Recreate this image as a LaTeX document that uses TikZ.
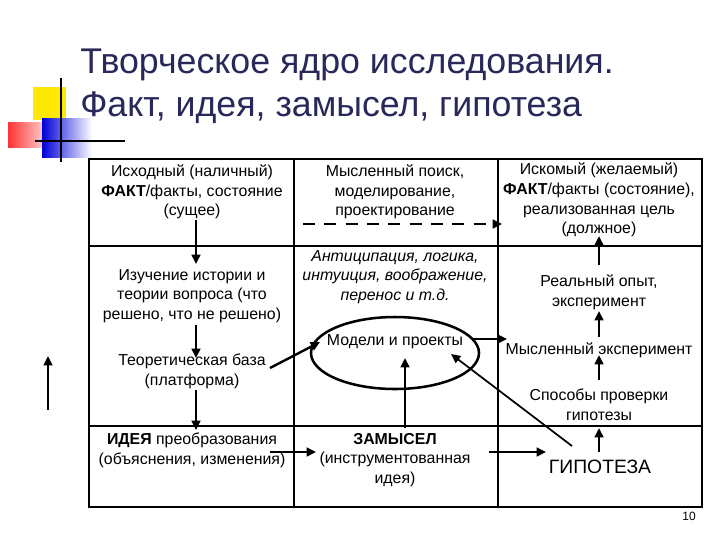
\documentclass[tikz,border=0pt]{standalone}
\usepackage{fontspec}
\setmainfont{Liberation Sans}
\usetikzlibrary{arrows.meta}
\definecolor{titlec}{RGB}{40,40,90}
\tikzset{
 txt/.style={align=center,font=\fontsize{11.9}{14.8}\selectfont,inner sep=0pt},
 arr/.style={-{Triangle[length=7pt,width=6.5pt]},line width=1.8pt},
 thin/.style={line width=0.9pt}
}
\begin{document}
\begin{tikzpicture}[x=1pt,y=-1pt,xscale=0.75,yscale=0.75]
\useasboundingbox (0,0) rectangle (720,540);
% logo
\fill[yellow!90!orange] (33,87) rectangle (66,120);
\shade[left color=red!80, right color=white] (8,122) rectangle (56,147);
\shade[left color=blue!85!black, right color=white] (42,118) rectangle (92,157);
\draw[line width=1.2pt] (61,78) -- (61,162);
\draw[line width=1.2pt] (35,141) -- (125,141);
% title
\node[anchor=west,text=titlec,font=\fontsize{26.8}{30}\selectfont,inner sep=0pt] (t1) at (80,65) {Творческое ядро исследования.};
\node[anchor=west,text=titlec,font=\fontsize{26.8}{30}\selectfont,inner sep=0pt] (t2) at (80,108) {Факт, идея, замысел, гипотеза};
% grid
\draw[line width=1.4pt] (89,159) rectangle (702,507);
\draw[thin] (294,159) -- (294,507) (498,159) -- (498,507);
\draw[thin] (89,246) -- (702,246) (89,426) -- (702,426);
% left column
\node[txt] (fact) at (192,192) {Исходный (наличный)\\\textbf{ФАКТ}/факты, состояние\\(сущее)};
\node[txt] (hist) at (192,296) {Изучение истории и\\теории вопроса (что\\решено, что не решено)};
\node[txt] (base) at (192,371) {Теоретическая база\\(платформа)};
\node[txt] (idea) at (192,450) {\textbf{ИДЕЯ} преобразования\\(объяснения, изменения)};
% middle
\node[txt] (search) at (395,192) {Мысленный поиск,\\моделирование,\\проектирование};
\node[txt,font=\itshape\fontsize{11.9}{14.8}\selectfont] (anti) at (395,277) {Антиципация, логика,\\интуиция, воображение,\\перенос и т.д.};
\draw[line width=1.9pt] (395,353) ellipse (84 and 36);
\node[txt] (models) at (395,342) {Модели и проекты};
\node[txt] (zam) at (395,460) {\textbf{ЗАМЫСЕЛ}\\(инструментованная\\идея)};
% right
\node[txt] (goal) at (599,200) {Искомый (желаемый)\\\textbf{ФАКТ}/факты (состояние),\\реализованная цель\\(должное)};
\node[txt] (real) at (599,292) {Реальный опыт,\\эксперимент};
\node[txt] (ment) at (599,350) {Мысленный эксперимент};
\node[txt] (ways) at (599,405) {Способы проверки\\гипотезы};
\node[inner sep=0pt,font=\fontsize{14.5}{16}\selectfont] (hyp) at (600,467) {ГИПОТЕЗА};
% arrows
\coordinate (a1) at (196,220); \coordinate (a2) at (196,264);
\draw[arr] (a1) -- (a2);
\coordinate (b1) at (196,325); \coordinate (b2) at (196,358);
\draw[arr] (b1) -- (b2);
\coordinate (c1) at (196,390); \coordinate (c2) at (196,430);
\draw[arr] (c1) -- (c2);
\coordinate (d1) at (270,368); \coordinate (d2) at (320,342);
\draw[arr] (d1) -- (d2);
\coordinate (e1) at (270,452); \coordinate (e2) at (316,452);
\draw[arr] (e1) -- (e2);
\coordinate (f1) at (405,428); \coordinate (f2) at (405,358);
\draw[arr] (f1) -- (f2);
\coordinate (g1) at (489,452); \coordinate (g2) at (546,452);
\draw[arr] (g1) -- (g2);
\coordinate (h1) at (572,446); \coordinate (h2) at (451,354);
\draw[arr,line width=1.3pt] (h1) -- (h2);
\coordinate (i1) at (473,339); \coordinate (i2) at (507,339);
\draw[arr,line width=1.3pt] (i1) -- (i2);
\coordinate (j1) at (303,224); \coordinate (j2) at (502,224);
\draw[arr,dash pattern=on 9pt off 7pt,line width=2.2pt] (j1) -- (j2);
\coordinate (k1) at (599,452); \coordinate (k2) at (599,428);
\draw[arr] (k1) -- (k2);
\coordinate (l1) at (599,380); \coordinate (l2) at (599,355);
\draw[arr] (l1) -- (l2);
\coordinate (m1) at (599,337); \coordinate (m2) at (599,311);
\draw[arr] (m1) -- (m2);
\coordinate (n1) at (599,265); \coordinate (n2) at (599,236);
\draw[arr] (n1) -- (n2);
\coordinate (o1) at (48,410); \coordinate (o2) at (48,356);
\draw[arr] (o1) -- (o2);
\node[font=\fontsize{9}{10}\selectfont,inner sep=0pt] (num) at (689,516) {10};
\end{tikzpicture}
\end{document}
